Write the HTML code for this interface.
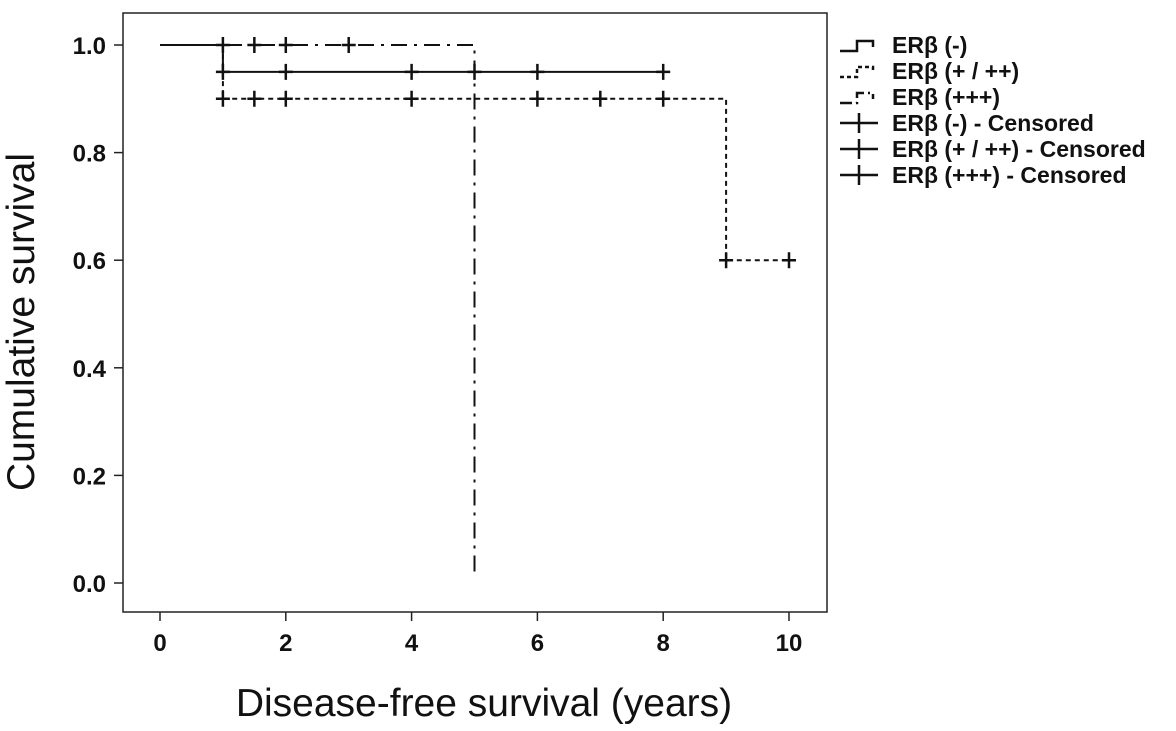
<!DOCTYPE html>
<html><head><meta charset="utf-8"><style>
html,body{margin:0;padding:0;background:#fff;}
svg{display:block;}
.t{font-family:"Liberation Sans",sans-serif;font-weight:bold;font-size:24px;fill:#111;}
.lg{font-family:"Liberation Sans",sans-serif;font-weight:bold;font-size:23px;fill:#111;}
.ti{font-family:"Liberation Sans",sans-serif;font-size:39px;fill:#111;}
</style></head><body>
<svg id="c" width="1176" height="731">
<rect x="123" y="13" width="704" height="599" fill="none" stroke="#222" stroke-width="1.5"/>
<g id="axes"></g>
<g id="series"></g>
<text class="ti" x="34" y="322" text-anchor="middle" transform="rotate(-90 34 322)">Cumulative survival</text>
<text class="ti" x="484" y="716" text-anchor="middle">Disease-free survival (years)</text>
<g id="legend"></g>
</svg>
<script>
const xTicks=[0,2,4,6,8,10];
const yTicks=[0.0,0.2,0.4,0.6,0.8,1.0];
const negTimes=[0,1,8];
const negSurv=[1.0,0.95,0.95];
const negCens=[1,2,4,5,6,8];
const midTimes=[0,1,9,10];
const midSurv=[1.0,0.9,0.6,0.6];
const midCens=[1,1.5,2,4,6,7,8,9,10];
const hiTimes=[0,5];
const hiSurv=[1.0,0.02];
const hiCens=[1,1.5,2,3];
const legendLabels=["ERβ (-)","ERβ (+ / ++)","ERβ (+++)","ERβ (-) - Censored","ERβ (+ / ++) - Censored","ERβ (+++) - Censored"];
const NS="http://www.w3.org/2000/svg";
const X=v=>160+v*62.9, Y=v=>583-v*538;
function mk(t,a,p){const e=document.createElementNS(NS,t);for(const k in a)e.setAttribute(k,a[k]);p.appendChild(e);return e;}
const ax=document.getElementById('axes');
xTicks.forEach(v=>{
 const l=mk('line',{x1:X(v),x2:X(v),y1:612,y2:621,stroke:'#222','stroke-width':1.5},ax);
 
 
 const t=mk('text',{x:X(v),y:651,class:'t','text-anchor':'middle'},ax);t.textContent=v;
 
 
});
yTicks.forEach(v=>{
 const l=mk('line',{x1:114,x2:123,y1:Y(v),y2:Y(v),stroke:'#222','stroke-width':1.5},ax);
 
 
 const t=mk('text',{x:106,y:Y(v)+9,class:'t','text-anchor':'end'},ax);t.textContent=v.toFixed(1);
 
 
});
const sg=document.getElementById('series');
function stepPath(ts,ss){let d=`M${X(ts[0])},${Y(ss[0])}`;for(let i=1;i<ts.length;i++){d+=` H${X(ts[i])} V${Y(ss[i])}`;}return d;}
function survAt(ts,ss,t){let s=ss[0];for(let i=1;i<ts.length;i++){if(t>=ts[i])s=ss[i];}return s;}
function drawSeries(name,ts,ss,cens,dash){
 const p=mk('path',{d:stepPath(ts,ss),fill:'none',stroke:'#111','stroke-width':2,'stroke-dasharray':dash},sg);
 
 
 cens.forEach(c=>{
  const s=survAt(ts,ss,c);
  const m=mk('path',{d:`M${X(c)-7},${Y(s)} H${X(c)+7} M${X(c)},${Y(s)-8} V${Y(s)+8}`,stroke:'#111','stroke-width':2.5},sg);
  
  
 });
}
drawSeries('er-beta-neg',negTimes,negSurv,negCens,'none');
drawSeries('er-beta-mid',midTimes,midSurv,midCens,'5 4');
drawSeries('er-beta-high',hiTimes,hiSurv,hiCens,'16 7 3 7');
const lg=document.getElementById('legend');
legendLabels.forEach((s,i)=>{
 const y=45+i*26;
 let d;
 if(i<3){d=`M840,${y+6} H857 V${y-4} H873 V${y+2}`;}else{d=`M840,${y} H878 M859,${y-10} V${y+10}`;}
 const ic=mk('path',{d:d,fill:'none',stroke:'#111','stroke-width':2.5,'stroke-dasharray':i==1?'4 3':(i==2?'12 4 2 4':'none')},lg);
 
 
 const t=mk('text',{x:892,y:y+8,class:'lg'},lg);t.textContent=s;
 
 
});
</script>
</body></html>
